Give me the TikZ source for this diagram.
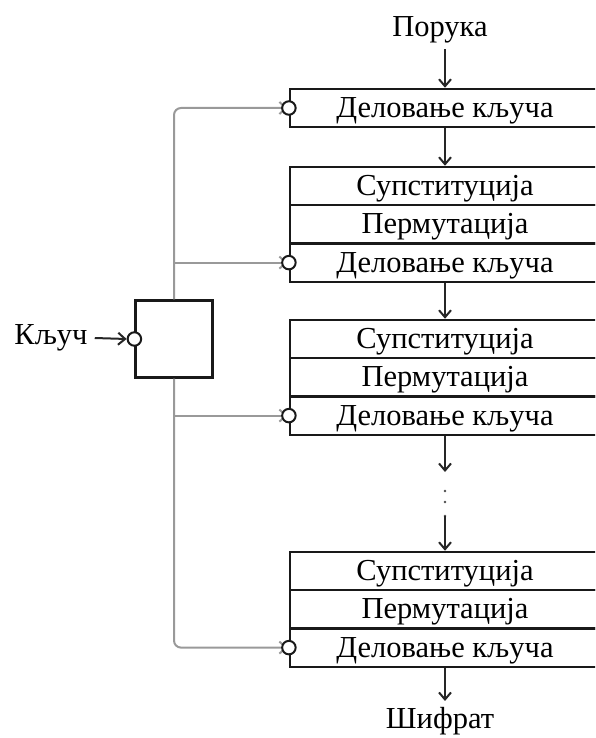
\documentclass[tikz,border=0pt]{standalone}
\usepackage{fontspec}
\setmainfont{Liberation Serif}
\usetikzlibrary{arrows.meta}
\begin{document}
\begin{tikzpicture}[x=1pt,y=-1pt,
  font=\fontsize{30.5}{30.5}\selectfont,
  lbl/.style={inner sep=0pt},
  row/.style={draw=black!90, line width=2.2pt, minimum width=310pt, minimum height=38.3pt,
    inner sep=0pt, text height=21pt, text depth=2pt},
  port/.style={circle, draw=black!90, fill=white, line width=2pt, minimum size=13.5pt, inner sep=0pt},
  tip/.style={-{Straight Barb[length=7pt,width=12pt]}},
  flow/.style={tip, line width=2pt, draw=black!85},
  keyline/.style={tip, line width=2pt, draw=black!40, rounded corners=7pt},
  dot/.style={circle, fill=black!70, minimum size=2.6pt, inner sep=0pt}
]
\useasboundingbox (0,0) rectangle (595,738);
\clip (0,0) rectangle (595,738);

% key generator
\node[draw=black!90, line width=2.2pt, minimum size=77pt, inner sep=0pt] (key) at (174,339) {};
\node[lbl] (keylbl) at (51,338) {Кључ};

% round 0
\node[lbl] (msg) at (440,30) {Порука};
\node[row] (k1) at (445,108) {Деловање кључа};

% round 1
\node[row] (s2) at (445,186) {Супституција};
\node[row] (p2) at (445,224.3) {Пермутација};
\node[row] (k2) at (445,262.6) {Деловање кључа};

% round 2
\node[row] (s3) at (445,339) {Супституција};
\node[row] (p3) at (445,377.3) {Пермутација};
\node[row] (k3) at (445,415.6) {Деловање кључа};

% last round
\node[row] (s4) at (445,571) {Супституција};
\node[row] (p4) at (445,609.3) {Пермутација};
\node[row] (k4) at (445,647.6) {Деловање кључа};

\node[lbl] (out) at (440,721) {Шифрат};

% ellipsis between rounds
\coordinate (gap) at (445,472);
\node[dot] (d1) at (445,491) {};
\node[dot] (d2) at (445,502) {};
\node[dot] (d3) at (445,516) {};

% key distribution (drawn under the ports)
\draw[keyline] (key.north) |- ([xshift=-1pt]k1.west);
\draw[keyline, rounded corners=0pt] (key.north |- k2.west) -- ([xshift=-1pt]k2.west);
\draw[keyline, rounded corners=0pt] (key.south |- k3.west) -- ([xshift=-1pt]k3.west);
\draw[keyline] (key.south) |- ([xshift=-1pt]k4.west);

% ports where the key enters
\node[port] (ck) at (key.west) {};
\node[port] (c1) at (k1.west) {};
\node[port] (c2) at (k2.west) {};
\node[port] (c3) at (k3.west) {};
\node[port] (c4) at (k4.west) {};

% data flow
\draw[flow] ([xshift=5pt,yshift=-6pt]msg.south) -- (k1.north);
\draw[flow] (k1.south) -- (s2.north);
\draw[flow] (k2.south) -- (s3.north);
\draw[flow] (k3.south) -- (gap);
\draw[flow] (d3.center) -- (s4.north);
\draw[flow] (k4.south) -- ([xshift=5pt,yshift=6pt]out.north);
\draw[flow] ([xshift=7pt]keylbl.east) -- (ck.west);
\end{tikzpicture}
\end{document}
